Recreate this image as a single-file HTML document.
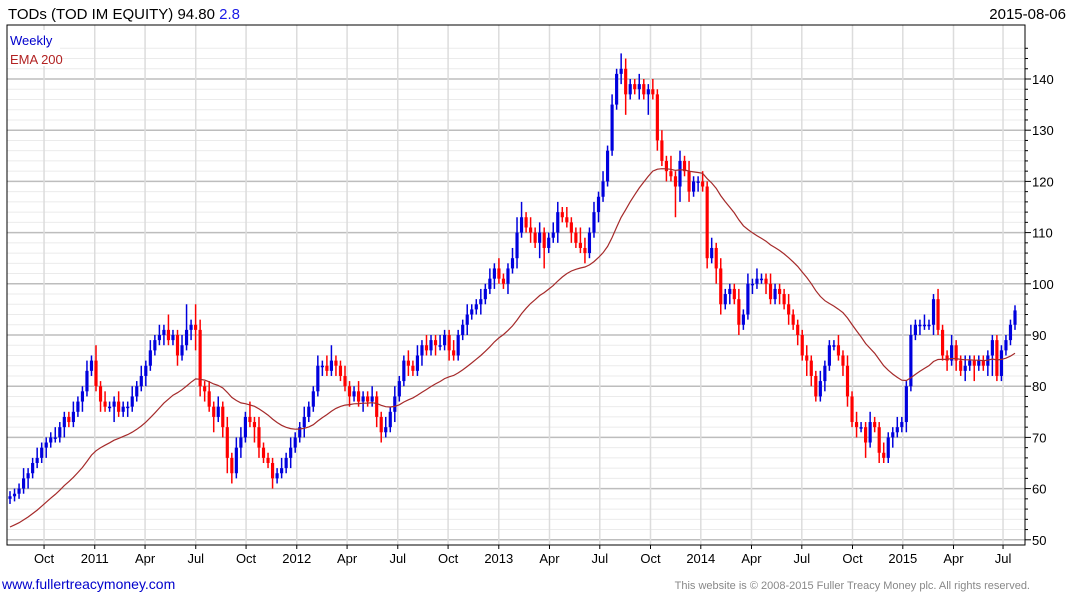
<!DOCTYPE html>
<html><head><meta charset="utf-8"><style>
body{margin:0;background:#fff;font-family:"Liberation Sans",sans-serif}
svg{display:block}
</style></head><body>
<svg id="c" width="1075" height="600">
<text x="8" y="19" font-size="15" fill="#000">TODs (TOD IM EQUITY) 94.80 <tspan fill="#1a1ae6">2.8</tspan></text>
<text x="1066" y="19" font-size="15" text-anchor="end" fill="#000">2015-08-06</text>
<text x="2" y="589" font-size="14" fill="#0000cc">www.fullertreacymoney.com</text>
<text x="1030" y="589" font-size="11" text-anchor="end" fill="#888">This website is © 2008-2015 Fuller Treacy Money plc. All rights reserved.</text>
</svg>
<script>
const closes=[58.5,59,60,62,63,65,66,68,69,70,70,72,74,73,75,77,79,83,85,80,77,76,76,77,75,76,76,78,80,82,84,87,89,90,91,89,90,86,88,91,92,91,80,79,76,74,76,72,66,63,68,70,74,73,72,68,66,65,62,63,64,66,68,70,72,74,76,79,84,84,83,85,84,82,80,78,79,77,78,77,78,74,71,72,75,78,81,85,84,83,86,88,87,89,88,88,90,87,86,90,92,94,95,96,97,99,101,103,101,100,103,105,110,113,111,110,108,110,107,109,110,114,113,112,110,108,107,106,110,114,117,120,126,135,141,142,137,139,138,139,137,138,137,128,124,122,121,119,124,122,118,120,120,119,105,107,103,96,98,99,97,92,94,100,100,101,101,100,97,99,98,96,94,92,90,86,85,82,78,81,84,88,88,86,84,78,73,72,72,69,73,72,67,66,70,71,72,73,80,90,92,92,92,92,97,91,86,85,88,85,83,84,85,84,85,84,86,89,82,87,89,92,94.8];
const wickUp=[1,1,1,2,1,1,2,1,1,1,2,1,1,1,2,1,1,2,1,3,1,2,1,1,2,1,1,2,1,2,1,2,1,2,1,3,1,1,2,5,1,4,2,1,2,1,2,1,2,1,2,2,1,3,1,2,1,1,1,1,2,1,2,1,1,2,1,1,2,1,2,3,1,1,2,1,1,2,1,1,2,1,1,2,1,2,1,1,2,1,2,1,2,1,1,2,1,1,2,1,1,2,1,1,2,1,2,1,2,1,1,2,3,3,1,2,1,2,1,1,2,2,1,2,1,1,3,2,1,2,1,2,1,2,1,3,2,1,1,2,1,1,2,1,2,1,3,1,2,1,2,1,1,2,1,2,1,2,1,1,1,2,1,2,1,2,1,1,2,1,1,1,2,1,1,1,2,1,1,2,1,1,1,2,1,2,1,2,1,1,2,1,1,2,1,1,2,1,1,2,1,1,2,1,1,2,1,1,2,1,1,2,1,1,1];
const wickDn=[1,1,1,1,2,1,1,1,2,1,1,1,2,1,1,1,2,1,1,1,2,1,1,3,1,1,2,1,1,1,2,1,1,1,2,1,1,2,1,1,2,4,2,2,1,3,1,2,3,2,1,2,1,1,3,2,1,1,2,1,1,1,2,1,1,2,1,1,1,2,1,1,2,1,1,2,1,1,2,1,1,2,2,1,1,2,1,1,2,1,1,2,1,1,2,1,1,2,1,1,1,2,1,1,2,1,1,2,1,1,2,1,2,1,1,2,1,3,4,1,1,2,1,1,2,1,1,2,1,1,2,1,1,1,1,2,4,1,1,2,1,4,1,2,1,2,1,6,3,1,2,1,2,1,2,1,3,2,1,2,1,2,1,1,2,1,1,2,1,1,2,1,2,1,2,1,3,2,1,1,2,1,1,1,2,2,1,2,1,3,1,1,2,1,1,2,1,1,2,1,1,2,1,1,2,1,1,2,1,2,1,2,1,3,1,1,2,4,1,1,1,1];
const yTicks=[50,60,70,80,90,100,110,120,130,140];
const xLabels=["Oct","2011","Apr","Jul","Oct","2012","Apr","Jul","Oct","2013","Apr","Jul","Oct","2014","Apr","Jul","Oct","2015","Apr","Jul"];
const xLabelWeek=[8.8,21.9,34.9,48,61,74.1,87.1,100.2,113.2,126.3,139.4,152.4,165.5,178.5,191.6,204.6,217.7,230.7,243.8,256.6];

const NS="http://www.w3.org/2000/svg";
const svg=document.getElementById('c');
const L=7,R=1025,T=25,B=545;
const yS=p=>79+(140-p)*5.12;
const xW=w=>10+w*3.87;
const xI=i=>10+i*(1005/(closes.length-1));
function mk(t,a,p){const e=document.createElementNS(NS,t);for(const k in a)e.setAttribute(k,a[k]);(p||svg).appendChild(e);return e;}
const g=mk('g',{});


for(let p=50;p<=146;p+=2){const y=yS(p);if(y<T||y>B)continue;const ln=mk('line',{x1:L,x2:R,y1:y,y2:y,stroke:p%10===0?'#bdbdbd':'#ebebeb','stroke-width':p%10===0?1.5:1},g);

}
xLabels.forEach((s,i)=>{const x=xW(xLabelWeek[i]);const ln=mk('line',{x1:x,x2:x,y1:T,y2:B,stroke:'#dcdcdc','stroke-width':1.5},g);


mk('line',{x1:x,x2:x,y1:B,y2:B+4,stroke:'#000'});
const t=mk('text',{x:x,y:563,'font-size':13,'text-anchor':'middle',fill:'#000'});t.textContent=s;

});
mk('rect',{x:L,y:T,width:R-L,height:B-T,fill:'none',stroke:'#000','stroke-width':1});
for(let p=50;p<=146;p+=2){const y=yS(p);if(y<T||y>B)continue;mk('line',{x1:R,x2:R+(p%10===0?6:3),y1:y,y2:y,stroke:'#000'});}
yTicks.forEach(v=>{const t=mk('text',{x:1032,y:yS(v)+5,'font-size':13,fill:'#000'});t.textContent=v;

});
const bw=Math.max(2,1005/(closes.length-1)*0.7);
closes.forEach((c,i)=>{const o=i?closes[i-1]:c-0.5;const up=c>=o;const col=up?'#0000dd':'#ff0000';
const x=xI(i);const hi=Math.max(o,c)+(wickUp[i]||1),lo=Math.min(o,c)-(wickDn[i]||1);
const cg=mk('g',{},g);


mk('line',{x1:x,x2:x,y1:yS(hi),y2:yS(lo),stroke:col,'stroke-width':1.5},cg);
const y1=yS(Math.max(o,c)),y2=yS(Math.min(o,c));
mk('rect',{x:x-bw/2,y:y1,width:bw,height:Math.max(1.5,y2-y1),fill:col},cg);});
let e=52.5;const k=2/(31+1);let d='';
closes.forEach((c,i)=>{if(i>0)e=e+k*(c-e);d+=(i?'L':'M')+xI(i).toFixed(1)+','+yS(e).toFixed(1);});
const ema=mk('path',{d:d,fill:'none',stroke:'#a52a2a','stroke-width':1.2},g);


mk('rect',{x:8,y:30,width:52,height:36,fill:'#fff'});
const l1=mk('text',{x:10,y:45,'font-size':13,fill:'#0000cc'});l1.textContent='Weekly';


const l2=mk('text',{x:10,y:64,'font-size':13,fill:'#b22222'});l2.textContent='EMA 200';


</script>
</body></html>
